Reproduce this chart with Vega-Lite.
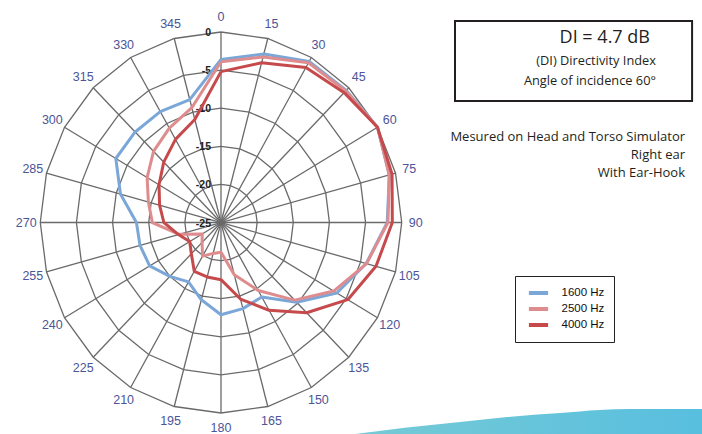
{
  "$schema": "https://vega.github.io/schema/vega-lite/v6.json",
  "width": 702,
  "height": 434,
  "autosize": {"type": "none"},
  "padding": 0,
  "background": "white",
  "config": {"view": {"stroke": null}},
  "datasets": {
    "polar": [
      {"freq": "1600 Hz", "angle": 0, "db": -3.6}, {"freq": "1600 Hz", "angle": 15, "db": -2.1}, {"freq": "1600 Hz", "angle": 30, "db": -0.6}, {"freq": "1600 Hz", "angle": 45, "db": -0.5}, {"freq": "1600 Hz", "angle": 60, "db": 0}, {"freq": "1600 Hz", "angle": 75, "db": -0.9}, {"freq": "1600 Hz", "angle": 90, "db": -2.0}, {"freq": "1600 Hz", "angle": 105, "db": -4.2}, {"freq": "1600 Hz", "angle": 120, "db": -6.5}, {"freq": "1600 Hz", "angle": 135, "db": -10.2}, {"freq": "1600 Hz", "angle": 150, "db": -13.7}, {"freq": "1600 Hz", "angle": 165, "db": -13.3}, {"freq": "1600 Hz", "angle": 180, "db": -12.9}, {"freq": "1600 Hz", "angle": 195, "db": -14.5}, {"freq": "1600 Hz", "angle": 210, "db": -16.0}, {"freq": "1600 Hz", "angle": 225, "db": -15.0}, {"freq": "1600 Hz", "angle": 240, "db": -13.6}, {"freq": "1600 Hz", "angle": 255, "db": -13.4}, {"freq": "1600 Hz", "angle": 270, "db": -13.3}, {"freq": "1600 Hz", "angle": 285, "db": -10.6}, {"freq": "1600 Hz", "angle": 300, "db": -8.2}, {"freq": "1600 Hz", "angle": 315, "db": -8.2}, {"freq": "1600 Hz", "angle": 330, "db": -8.2}, {"freq": "1600 Hz", "angle": 345, "db": -8.3}, {"freq": "1600 Hz", "angle": 360, "db": -3.6},
      {"freq": "2500 Hz", "angle": 0, "db": -3.9}, {"freq": "2500 Hz", "angle": 15, "db": -2.5}, {"freq": "2500 Hz", "angle": 30, "db": -0.8}, {"freq": "2500 Hz", "angle": 45, "db": -0.6}, {"freq": "2500 Hz", "angle": 60, "db": 0}, {"freq": "2500 Hz", "angle": 75, "db": -0.9}, {"freq": "2500 Hz", "angle": 90, "db": -1.9}, {"freq": "2500 Hz", "angle": 105, "db": -4.15}, {"freq": "2500 Hz", "angle": 120, "db": -7.0}, {"freq": "2500 Hz", "angle": 135, "db": -10.6}, {"freq": "2500 Hz", "angle": 150, "db": -14.7}, {"freq": "2500 Hz", "angle": 165, "db": -17.9}, {"freq": "2500 Hz", "angle": 180, "db": -21.1}, {"freq": "2500 Hz", "angle": 195, "db": -20.8}, {"freq": "2500 Hz", "angle": 210, "db": -19.9}, {"freq": "2500 Hz", "angle": 225, "db": -21.3}, {"freq": "2500 Hz", "angle": 240, "db": -22.0}, {"freq": "2500 Hz", "angle": 255, "db": -19.0}, {"freq": "2500 Hz", "angle": 270, "db": -15.5}, {"freq": "2500 Hz", "angle": 285, "db": -14.6}, {"freq": "2500 Hz", "angle": 300, "db": -13.2}, {"freq": "2500 Hz", "angle": 315, "db": -11.8}, {"freq": "2500 Hz", "angle": 330, "db": -10.7}, {"freq": "2500 Hz", "angle": 345, "db": -9.4}, {"freq": "2500 Hz", "angle": 360, "db": -3.9},
      {"freq": "4000 Hz", "angle": 0, "db": -5.2}, {"freq": "4000 Hz", "angle": 15, "db": -3.3}, {"freq": "4000 Hz", "angle": 30, "db": -1.5}, {"freq": "4000 Hz", "angle": 45, "db": -0.9}, {"freq": "4000 Hz", "angle": 60, "db": 0}, {"freq": "4000 Hz", "angle": 75, "db": -0.5}, {"freq": "4000 Hz", "angle": 90, "db": -1.3}, {"freq": "4000 Hz", "angle": 105, "db": -2.8}, {"freq": "4000 Hz", "angle": 120, "db": -4.75}, {"freq": "4000 Hz", "angle": 135, "db": -8.25}, {"freq": "4000 Hz", "angle": 150, "db": -11.7}, {"freq": "4000 Hz", "angle": 165, "db": -14.6}, {"freq": "4000 Hz", "angle": 180, "db": -17.5}, {"freq": "4000 Hz", "angle": 195, "db": -17.6}, {"freq": "4000 Hz", "angle": 210, "db": -17.6}, {"freq": "4000 Hz", "angle": 225, "db": -19.2}, {"freq": "4000 Hz", "angle": 240, "db": -20.0}, {"freq": "4000 Hz", "angle": 255, "db": -18.9}, {"freq": "4000 Hz", "angle": 270, "db": -17.1}, {"freq": "4000 Hz", "angle": 285, "db": -16.2}, {"freq": "4000 Hz", "angle": 300, "db": -15.1}, {"freq": "4000 Hz", "angle": 315, "db": -13.8}, {"freq": "4000 Hz", "angle": 330, "db": -12.4}, {"freq": "4000 Hz", "angle": 345, "db": -11.0}, {"freq": "4000 Hz", "angle": 360, "db": -5.2}
    ],
    "rings": [
      {"lv": 0, "a": [0, 15, 30, 45, 60, 75, 90, 105, 120, 135, 150, 165, 180, 195, 210, 225, 240, 255, 270, 285, 300, 315, 330, 345, 360]},
      {"lv": -5, "a": [0, 15, 30, 45, 60, 75, 90, 105, 120, 135, 150, 165, 180, 195, 210, 225, 240, 255, 270, 285, 300, 315, 330, 345, 360]},
      {"lv": -10, "a": [0, 15, 30, 45, 60, 75, 90, 105, 120, 135, 150, 165, 180, 195, 210, 225, 240, 255, 270, 285, 300, 315, 330, 345, 360]},
      {"lv": -15, "a": [0, 15, 30, 45, 60, 75, 90, 105, 120, 135, 150, 165, 180, 195, 210, 225, 240, 255, 270, 285, 300, 315, 330, 345, 360]},
      {"lv": -20, "a": [0, 15, 30, 45, 60, 75, 90, 105, 120, 135, 150, 165, 180, 195, 210, 225, 240, 255, 270, 285, 300, 315, 330, 345, 360]}
    ],
    "spokes": [
      {"a": [0, 15, 30, 45, 60, 75, 90, 105, 120, 135, 150, 165, 180, 195, 210, 225, 240, 255, 270, 285, 300, 315, 330, 345]}
    ],
    "levels": [{"lv": 0}, {"lv": -5}, {"lv": -10}, {"lv": -15}, {"lv": -20}, {"lv": -25}],
    "swoosh": [
      {"u": 0.742, "v": -1.110}, {"u": 1.029, "v": -1.076}, {"u": 1.323, "v": -1.047}, {"u": 1.583, "v": -1.021}, {"u": 1.876, "v": -1.000}, {"u": 2.097, "v": -0.984}, {"u": 2.263, "v": -0.979}, {"u": 2.662, "v": -0.979}
    ]
  },
  "layer": [
    {
      "data": {"name": "swoosh"},
      "mark": {"type": "area", "interpolate": "monotone", "fill": {"x1": 0, "y1": 0, "x2": 1, "y2": 0, "gradient": "linear", "stops": [{"offset": 0, "color": "#76cad5"}, {"offset": 1, "color": "#58bfdf"}]}},
      "encoding": {
        "x": {"field": "u", "type": "quantitative", "scale": {"domain": [-1.2230, 2.6619], "nice": false, "zero": false}, "axis": null},
        "y": {"field": "v", "type": "quantitative", "scale": {"domain": [-1.1102, 1.1680], "nice": false, "zero": false}, "axis": null},
        "y2": {"datum": -1.1102}
      }
    },
    {
      "data": {"name": "rings"},
      "transform": [
        {"flatten": ["a"]},
        {"calculate": "(datum.lv + 25) / 25", "as": "r"},
        {"calculate": "datum.r * sin(datum.a * PI / 180)", "as": "px"},
        {"calculate": "datum.r * cos(datum.a * PI / 180)", "as": "py"}
      ],
      "mark": {"type": "line", "stroke": "#6a6a6a", "strokeWidth": 1.3},
      "encoding": {
        "x": {"field": "px", "type": "quantitative", "scale": {"domain": [-1.2230, 2.6619], "nice": false, "zero": false}, "axis": null},
        "y": {"field": "py", "type": "quantitative", "scale": {"domain": [-1.1102, 1.1680], "nice": false, "zero": false}, "axis": null},
        "detail": {"field": "lv", "type": "nominal"},
        "order": {"field": "a", "type": "quantitative"}
      }
    },
    {
      "data": {"name": "spokes"},
      "transform": [
        {"flatten": ["a"]},
        {"calculate": "sin(datum.a * PI / 180)", "as": "px"},
        {"calculate": "cos(datum.a * PI / 180)", "as": "py"}
      ],
      "mark": {"type": "rule", "stroke": "#6a6a6a", "strokeWidth": 1.3},
      "encoding": {
        "x": {"field": "px", "type": "quantitative", "scale": {"domain": [-1.2230, 2.6619], "nice": false, "zero": false}, "axis": null},
        "y": {"field": "py", "type": "quantitative", "scale": {"domain": [-1.1102, 1.1680], "nice": false, "zero": false}, "axis": null},
        "x2": {"datum": 0},
        "y2": {"datum": 0}
      }
    },
    {
      "data": {"name": "spokes"},
      "transform": [
        {"flatten": ["a"]},
        {"calculate": "1.078 * sin(datum.a * PI / 180)", "as": "px"},
        {"calculate": "1.078 * cos(datum.a * PI / 180)", "as": "py"}
      ],
      "mark": {"type": "text", "font": "Liberation Sans", "fontSize": 12.5, "color": "#4b5597", "align": "center", "baseline": "middle"},
      "encoding": {
        "x": {"field": "px", "type": "quantitative", "scale": {"domain": [-1.2230, 2.6619], "nice": false, "zero": false}, "axis": null},
        "y": {"field": "py", "type": "quantitative", "scale": {"domain": [-1.1102, 1.1680], "nice": false, "zero": false}, "axis": null},
        "text": {"field": "a", "type": "nominal"}
      }
    },
    {
      "data": {"name": "levels"},
      "transform": [
        {"calculate": "(datum.lv + 25) / 25", "as": "py"},
        {"calculate": "0", "as": "px"}
      ],
      "mark": {"type": "text", "font": "Liberation Sans", "fontSize": 10.5, "fontWeight": "bold", "color": "#222222", "align": "right", "baseline": "middle", "dx": -10, "dy": 1},
      "encoding": {
        "x": {"field": "px", "type": "quantitative", "scale": {"domain": [-1.2230, 2.6619], "nice": false, "zero": false}, "axis": null},
        "y": {"field": "py", "type": "quantitative", "scale": {"domain": [-1.1102, 1.1680], "nice": false, "zero": false}, "axis": null},
        "text": {"field": "lv", "type": "nominal"}
      }
    },
    {
      "data": {"name": "polar"},
      "transform": [
        {"calculate": "(datum.db + 25) / 25", "as": "r"},
        {"calculate": "datum.r * sin(datum.angle * PI / 180)", "as": "px"},
        {"calculate": "datum.r * cos(datum.angle * PI / 180)", "as": "py"}
      ],
      "mark": {"type": "line", "strokeWidth": 3, "strokeJoin": "round"},
      "encoding": {
        "x": {"field": "px", "type": "quantitative", "scale": {"domain": [-1.2230, 2.6619], "nice": false, "zero": false}, "axis": null},
        "y": {"field": "py", "type": "quantitative", "scale": {"domain": [-1.1102, 1.1680], "nice": false, "zero": false}, "axis": null},
        "order": {"field": "angle", "type": "quantitative"},
        "color": {
          "field": "freq", "type": "nominal",
          "scale": {"domain": ["1600 Hz", "2500 Hz", "4000 Hz"], "range": ["#7ba7d8", "#de8c8e", "#c64a4c"]},
          "legend": {
            "orient": "none", "legendX": 515, "legendY": 276, "title": null,
            "strokeColor": "#222222", "fillColor": "white", "padding": 9,
            "symbolType": "M-1.6,0H1.6", "symbolStrokeWidth": 4, "symbolSize": 144, "symbolOffset": 6.5,
            "labelFont": "Liberation Sans", "labelFontSize": 11.5, "labelColor": "#111111",
            "labelOffset": 15, "rowPadding": 0
          }
        }
      }
    },
    {
      "data": {"values": [{}]},
      "mark": {"type": "rect", "fillOpacity": 0, "stroke": "#231f20", "strokeWidth": 2},
      "encoding": {
        "x": {"datum": 1.295, "type": "quantitative", "scale": {"domain": [-1.2230, 2.6619], "nice": false, "zero": false}, "axis": null},
        "x2": {"datum": 2.607},
        "y": {"datum": 1.058, "type": "quantitative", "scale": {"domain": [-1.1102, 1.1680], "nice": false, "zero": false}, "axis": null},
        "y2": {"datum": 0.638}
      }
    },
    {
      "data": {"values": [{}]},
      "mark": {"type": "text", "text": "DI = 4.7 dB", "font": "Open Sans", "fontSize": 18, "color": "#231f20", "align": "right", "baseline": "alphabetic"},
      "encoding": {
        "x": {"datum": 2.374, "type": "quantitative", "scale": {"domain": [-1.2230, 2.6619], "nice": false, "zero": false}, "axis": null},
        "y": {"datum": 0.941, "type": "quantitative", "scale": {"domain": [-1.1102, 1.1680], "nice": false, "zero": false}, "axis": null}
      }
    },
    {
      "data": {"values": [{}]},
      "mark": {"type": "text", "text": ["(DI) Directivity Index", "Angle of incidence 60°"], "lineHeight": 20, "font": "Open Sans", "fontSize": 12.8, "color": "#231f20", "align": "right", "baseline": "alphabetic"},
      "encoding": {
        "x": {"datum": 2.407, "type": "quantitative", "scale": {"domain": [-1.2230, 2.6619], "nice": false, "zero": false}, "axis": null},
        "y": {"datum": 0.827, "type": "quantitative", "scale": {"domain": [-1.1102, 1.1680], "nice": false, "zero": false}, "axis": null}
      }
    },
    {
      "data": {"values": [{}]},
      "mark": {"type": "text", "text": ["Mesured on Head and Torso Simulator", "Right ear", "With Ear-Hook"], "lineHeight": 18, "font": "Open Sans", "fontSize": 13, "color": "#231f20", "align": "right", "baseline": "alphabetic"},
      "encoding": {
        "x": {"datum": 2.568, "type": "quantitative", "scale": {"domain": [-1.2230, 2.6619], "nice": false, "zero": false}, "axis": null},
        "y": {"datum": 0.429, "type": "quantitative", "scale": {"domain": [-1.1102, 1.1680], "nice": false, "zero": false}, "axis": null}
      }
    }
  ]
}
